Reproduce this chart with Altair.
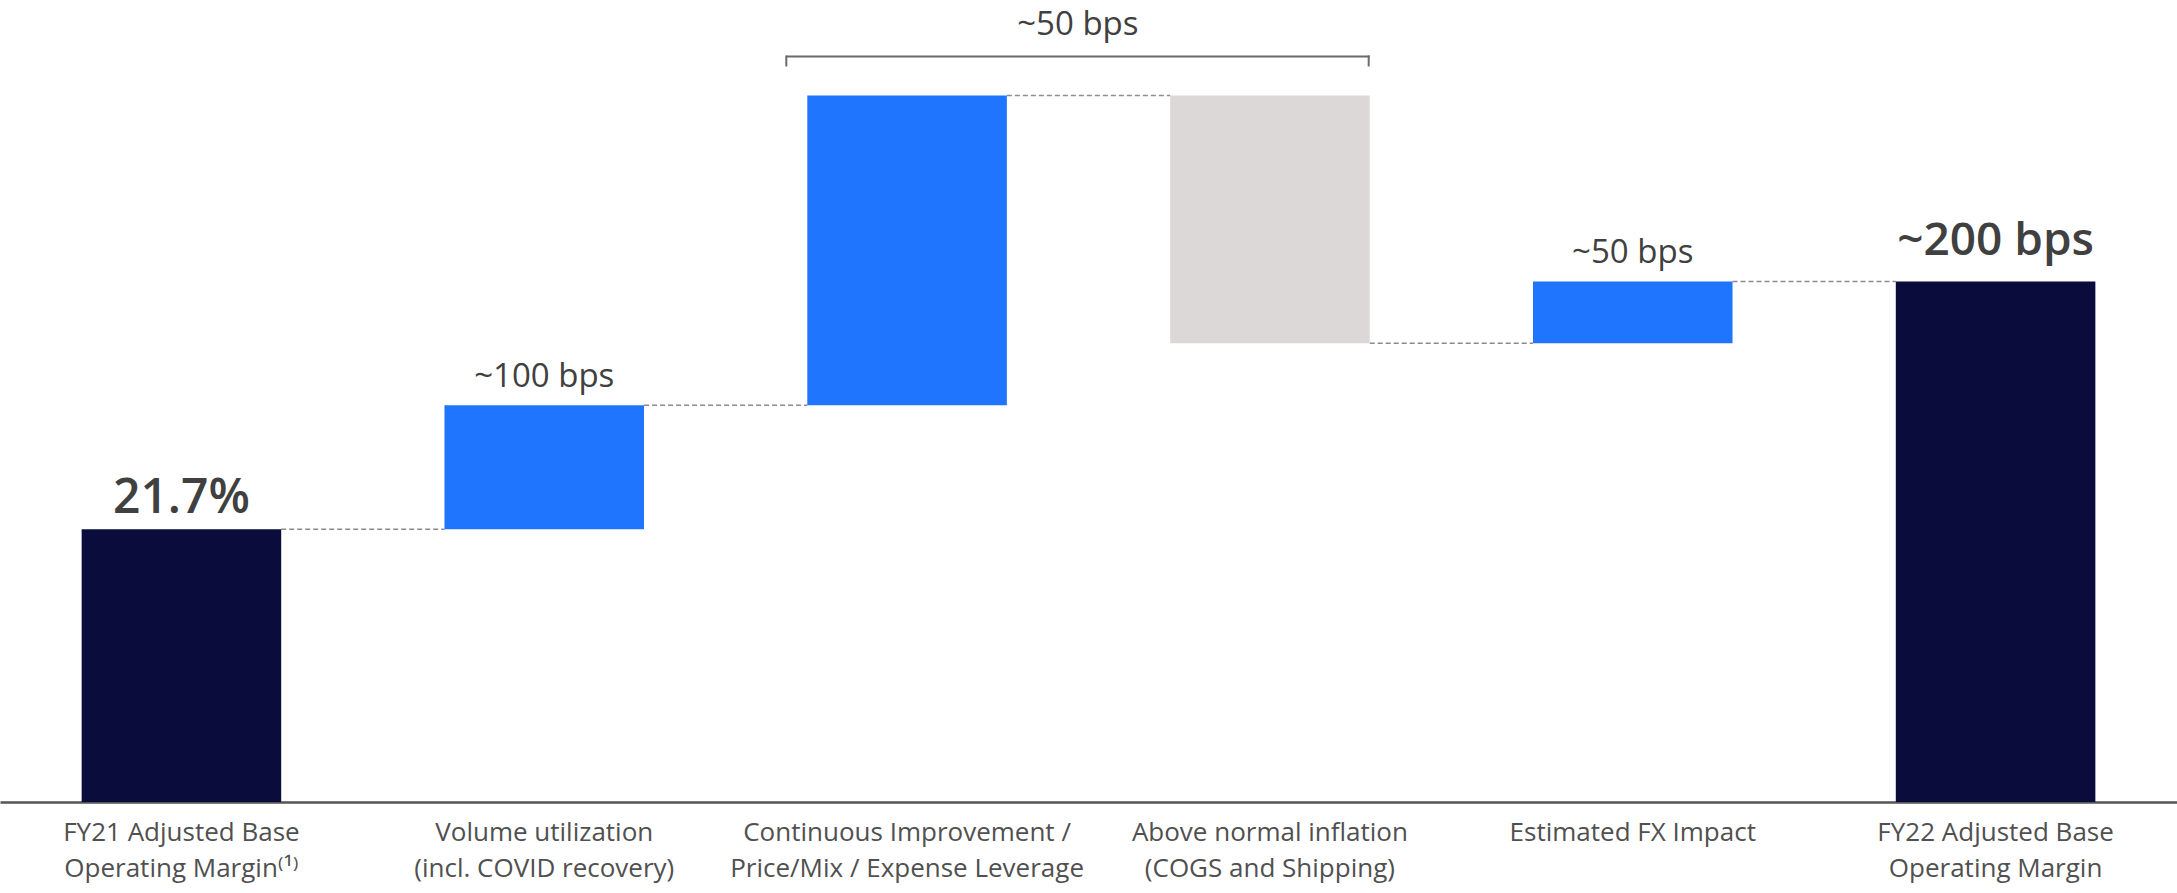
import altair as alt
import pandas as pd

# ---- data ----
categories = [
    "FY21 Adjusted Base|Operating Margin\u207d\u00b9\u207e",
    "Volume utilization|(incl. COVID recovery)",
    "Continuous Improvement /|Price/Mix / Expense Leverage",
    "Above normal inflation|(COGS and Shipping)",
    "Estimated FX Impact",
    "FY22 Adjusted Base|Operating Margin",
]
kinds = ["total", "up", "up", "down", "up", "total"]
changes = [21.7, 1.0, 2.5, -2.0, 0.5, None]  # None -> running total
bar_labels = ["21.7%", "~100 bps", "", "", "~50 bps", "~200 bps"]
bracket_label = "~50 bps"
bracket_pair = [2, 3]

Y_MIN, Y_MAX = 19.5, 25.97

# ---- build tables ----
rows = []
running = 0.0
for cat, kind, ch, lab in zip(categories, kinds, changes, bar_labels):
    if kind == "total":
        if ch is not None:
            running = ch
        start, end = 0.0, running
    else:
        start = running
        running = round(running + ch, 4)
        end = running
    rows.append(dict(cat=cat, kind=kind, start=start, end=end,
                     top=max(start, end), label=lab))
bars_df = pd.DataFrame(rows)

conn_df = pd.DataFrame([
    dict(frm=categories[i], to=categories[i + 1], level=rows[i]["end"])
    for i in range(len(categories) - 1)
])

b0, b1 = bracket_pair
bracket_level = max(rows[b0]["top"], rows[b1]["top"])
bracket_df = pd.DataFrame([dict(a=categories[b0], b=categories[b1],
                                level=bracket_level, label=bracket_label)])

FONT = "Open Sans"
TEXT_COLOR = "#404040"

xscale = alt.Scale(domain=categories, paddingInner=0.45, paddingOuter=0.225)
yscale = alt.Scale(domain=[Y_MIN, Y_MAX], clamp=True, nice=False, zero=False)

x_axis = alt.Axis(
    title=None, labelExpr="split(datum.label, '|')", labelAngle=0,
    labelFont=FONT, labelFontSize=26, labelColor="#505050",
    labelPadding=38, labelBaseline="alphabetic", labelLineHeight=36,
    labelLimit=600, ticks=False, tickSize=0, grid=False,
    labelOverlap=False,
    domainColor="#555555", domainWidth=2.5,
)


def X(field, **kw):
    return alt.X(field, type="nominal", scale=xscale, axis=x_axis, title=None, **kw)


def Y(field):
    return alt.Y(field, type="quantitative", scale=yscale, axis=None)


bars = alt.Chart(bars_df).mark_bar().encode(
    x=X("cat"),
    y=Y("start"),
    y2="end:Q",
    color=alt.Color("kind:N", legend=None,
                    scale=alt.Scale(domain=["total", "up", "down"],
                                    range=["#0a0c3c", "#1f75fe", "#dbd8d7"])),
)

connectors = alt.Chart(conn_df).mark_rule(
    color="#8c8c8c", strokeWidth=1.5, strokeDash=[5, 3]
).encode(
    x=X("frm", bandPosition=1),
    x2=alt.X2("to:N", bandPosition=0),
    y=Y("level"),
)


def label_layer(idx_list, size, dy, weight=400):
    sub = bars_df.iloc[idx_list]
    return alt.Chart(sub).mark_text(
        font=FONT, fontSize=size, fontWeight=weight, color=TEXT_COLOR,
        baseline="alphabetic", align="center", dy=dy,
    ).encode(
        x=X("cat"),
        y=Y("top"),
        text="label:N",
    )


small_labels = label_layer([1, 4], 33, -18)
first_label = label_layer([0], 48, -16, 600)
last_label = label_layer([5], 46, -26, 600)

bracket_h = alt.Chart(bracket_df).mark_rule(
    color="#6b6b6b", strokeWidth=2, xOffset=-21, yOffset=-39
).encode(
    x=X("a", bandPosition=0),
    x2=alt.X2("b:N", bandPosition=1),
    y=Y("level"),
)
bracket_l = alt.Chart(bracket_df).mark_rule(
    color="#6b6b6b", strokeWidth=2, xOffset=-21, yOffset=-40, y2Offset=-29
).encode(
    x=X("a", bandPosition=0),
    y=Y("level"),
    y2="level:Q",
)
bracket_r = alt.Chart(bracket_df).mark_rule(
    color="#6b6b6b", strokeWidth=2, xOffset=-1, yOffset=-40, y2Offset=-29
).encode(
    x=X("b", bandPosition=1),
    y=Y("level"),
    y2="level:Q",
)
bracket_text = alt.Chart(bracket_df).mark_text(
    font=FONT, fontSize=33, color=TEXT_COLOR, baseline="alphabetic",
    align="center", dx=71, dy=-60,
).encode(
    x=X("a", bandPosition=1),
    y=Y("level"),
    text="label:N",
)

chart = alt.layer(
    connectors, bars, small_labels, first_label, last_label,
    bracket_h, bracket_l, bracket_r, bracket_text,
).properties(
    width=2177, height=802, background="white",
    autosize=alt.AutoSizeParams(type="none"),
    padding={"left": 0, "top": 0, "right": 0, "bottom": 91},
).configure_view(stroke=None)

chart.save("out.html", embed_options={"renderer": "svg", "actions": False})
